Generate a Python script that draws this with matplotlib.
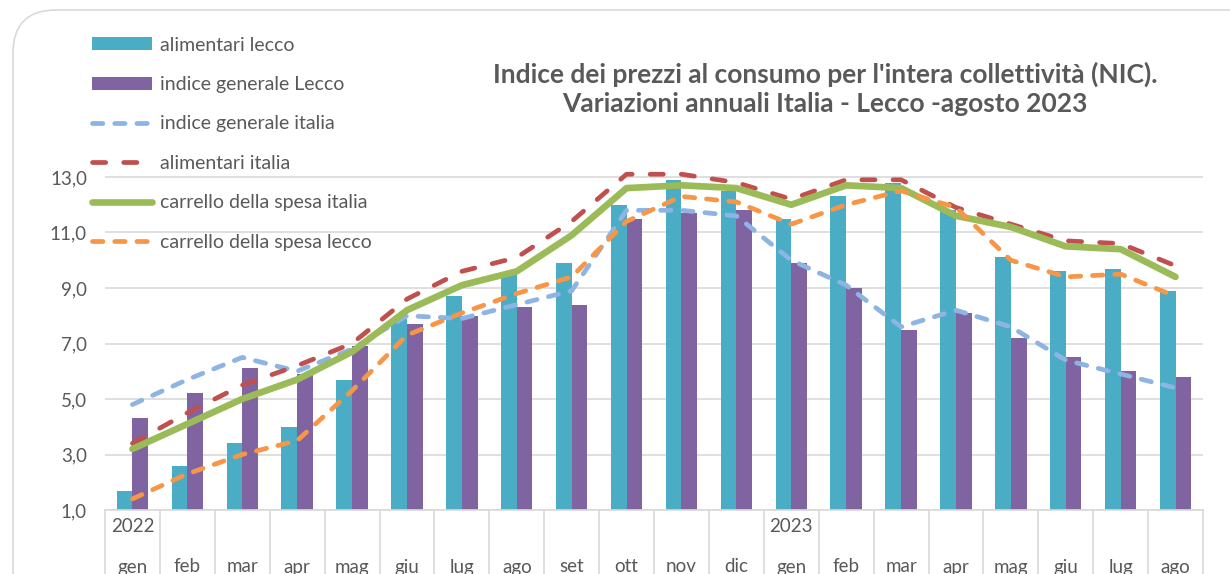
import matplotlib
matplotlib.use("Agg")
import matplotlib.pyplot as plt
import matplotlib.transforms as mtransforms
from matplotlib.patches import FancyBboxPatch
import numpy as np

plt.rcParams['font.family'] = ['Lato', 'DejaVu Sans']

months = ["gen", "feb", "mar", "apr", "mag", "giu", "lug", "ago", "set", "ott",
          "nov", "dic", "gen", "feb", "mar", "apr", "mag", "giu", "lug", "ago"]
years = {0: "2022", 12: "2023"}

alimentari_lecco = [1.7, 2.6, 3.4, 4.0, 5.7, 7.9, 8.7, 9.5, 9.9, 12.0,
                    12.9, 12.5, 11.5, 12.3, 12.8, 11.8, 10.1, 9.6, 9.7, 8.9]
indice_generale_lecco = [4.3, 5.2, 6.1, 5.9, 6.9, 7.7, 8.0, 8.3, 8.4, 11.5,
                         11.7, 11.8, 9.9, 9.0, 7.5, 8.1, 7.2, 6.5, 6.0, 5.8]
indice_generale_italia = [4.8, 5.7, 6.5, 6.0, 6.8, 8.0, 7.9, 8.4, 8.9, 11.8,
                          11.8, 11.6, 10.0, 9.1, 7.6, 8.2, 7.6, 6.4, 5.9, 5.4]
alimentari_italia = [3.4, 4.5, 5.5, 6.2, 7.0, 8.6, 9.6, 10.1, 11.4, 13.1,
                     13.1, 12.8, 12.2, 12.9, 12.9, 11.9, 11.3, 10.7, 10.6, 9.8]
carrello_italia = [3.2, 4.1, 5.0, 5.7, 6.7, 8.2, 9.1, 9.6, 10.9, 12.6,
                   12.7, 12.6, 12.0, 12.7, 12.6, 11.6, 11.2, 10.5, 10.4, 9.4]
carrello_lecco = [1.4, 2.3, 3.0, 3.5, 5.3, 7.3, 8.1, 8.8, 9.4, 11.4,
                  12.3, 12.1, 11.3, 12.0, 12.5, 11.9, 10.0, 9.4, 9.5, 8.7]

yticks = [1, 3, 5, 7, 9, 11, 13]
title = ("Indice dei prezzi al consumo per l'intera collettività (NIC).\n"
         "Variazioni annuali Italia - Lecco -agosto 2023")

W, H = 1230, 574
fig = plt.figure(figsize=(W / 100, H / 100), dpi=100)

# outer rounded frame (continues beyond the bottom and right edges)
frame = FancyBboxPatch((13 / W, -0.3), (W + 40) / W, 1.3 - 10 / H,
                       boxstyle="round,pad=0,rounding_size=0.035",
                       transform=fig.transFigure, fc="white", ec="#d9d9d9",
                       lw=1.2, mutation_aspect=W / H, clip_on=False, zorder=-5)
fig.patches.append(frame)

left_px, right_px = 105, 1203
bottom_px, top13_px = 510, 177
ppu = (bottom_px - top13_px) / 12.0
ymax = 13.3
top_px = bottom_px - (ymax - 1) * ppu
ax = fig.add_axes([left_px / W, 1 - bottom_px / H,
                   (right_px - left_px) / W, (bottom_px - top_px) / H])
ax.set_zorder(1)
ax.patch.set_alpha(0)

x = np.arange(len(months))
bw = 0.286
b1 = ax.bar(x - bw / 2, alimentari_lecco, width=bw, bottom=0, color="#4BACC6",
            label="alimentari lecco", zorder=2)
b2 = ax.bar(x + bw / 2, indice_generale_lecco, width=bw, bottom=0, color="#8064A2",
            label="indice generale Lecco", zorder=2)

dlw = 3.4
l1, = ax.plot(x, indice_generale_italia, color="#8DB4E2", lw=dlw, dashes=(2.2, 2.5),
              dash_capstyle="round", label="indice generale italia", zorder=3, clip_on=False)
l2, = ax.plot(x, alimentari_italia, color="#C0504D", lw=dlw, dashes=(2.8, 3.8),
              dash_capstyle="round", label="alimentari italia", zorder=3, clip_on=False)
l3, = ax.plot(x, carrello_italia, color="#9BBB59", lw=4.8, solid_capstyle="round",
              label="carrello della spesa italia", zorder=4, clip_on=False)
l4, = ax.plot(x, carrello_lecco, color="#F79646", lw=dlw, dashes=(2.2, 2.5),
              dash_capstyle="round", label="carrello della spesa lecco", zorder=5, clip_on=False)

ax.set_xlim(-0.5, len(months) - 0.5)
ax.set_ylim(1, ymax)
ax.set_yticks(yticks)
ax.set_yticklabels([f"{v:.1f}".replace(".", ",") for v in yticks])
ax.tick_params(axis="y", length=0, labelsize=13.5, labelcolor="#595959", pad=13)
ax.set_xticks([])
for s in ["top", "right", "left"]:
    ax.spines[s].set_visible(False)
ax.spines["bottom"].set_color("#d9d9d9")
ax.spines["bottom"].set_linewidth(1.2)
ax.grid(axis="y", color="#d9d9d9", lw=1.2, zorder=0)
ax.set_axisbelow(True)

# multi-level category axis
trans = mtransforms.blended_transform_factory(ax.transData, ax.transAxes)
ax_h_px = bottom_px - top_px
for b in np.arange(-0.5, len(months), 1.0):
    ax.plot([b, b], [0, -(H - bottom_px + 5) / ax_h_px], transform=trans,
            color="#d9d9d9", lw=1.2, clip_on=False)
for i, m in enumerate(months):
    ax.text(i, -(567 - bottom_px) / ax_h_px, m, transform=trans, ha="center",
            va="center", fontsize=13.5, color="#595959", clip_on=False)
for i, yr in years.items():
    ax.text(i, -(527 - bottom_px) / ax_h_px, yr, transform=trans, ha="center",
            va="center", fontsize=13.5, color="#595959", clip_on=False)

fig.text(825 / W, 1 - 89 / H, title, ha="center", va="center", fontsize=19,
         fontweight="bold", color="#595959", linespacing=1.25)

leg = ax.legend(handles=[b1, b2, l1, l2, l3, l4],
                loc="upper left", bbox_to_anchor=(82 / W, 1 - 27 / H),
                bbox_transform=fig.transFigure, frameon=False, fontsize=14,
                labelcolor="#595959", handlelength=3.1, handleheight=0.65,
                handletextpad=0.42, labelspacing=1.15, borderpad=0)
leg.set_zorder(10)

fig.savefig("out.png", dpi=100)
